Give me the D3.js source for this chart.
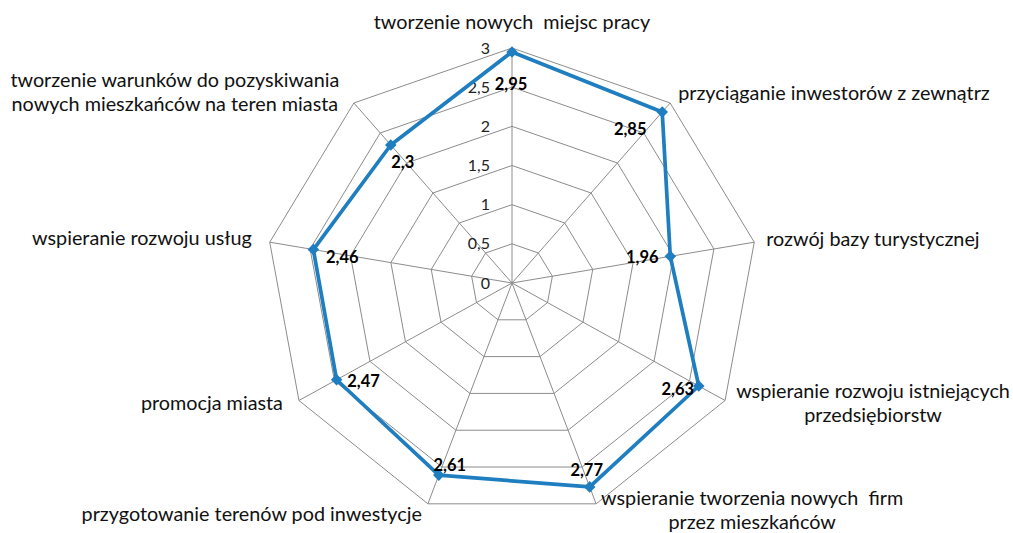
<!DOCTYPE html>
<html>
<head>
<meta charset="utf-8">
<script src="https://cdn.jsdelivr.net/npm/d3@7"></script>
<style>
  html, body { margin: 0; padding: 0; background: #fff; }
  svg { display: block; }
  text { font-family: Lato, "Open Sans", sans-serif; white-space: pre; }
</style>
</head>
<body>
<svg id="chart" width="1013" height="533"></svg>
<script>
// ---- data ----
const categories = [
  ["tworzenie nowych  miejsc pracy"],
  ["przyciąganie inwestorów z zewnątrz"],
  ["rozwój bazy turystycznej"],
  ["wspieranie rozwoju istniejących", "przedsiębiorstw"],
  ["wspieranie tworzenia nowych  firm", "przez mieszkańców"],
  ["przygotowanie terenów pod inwestycje"],
  ["promocja miasta"],
  ["wspieranie rozwoju usług"],
  ["tworzenie warunków do pozyskiwania", "nowych mieszkańców na teren miasta"]
];
const values = [2.95, 2.85, 1.96, 2.63, 2.77, 2.61, 2.47, 2.46, 2.3];
const tickValues = [0, 0.5, 1, 1.5, 2, 2.5, 3];
const tickLabels = ["0", "0,5", "1", "1,5", "2", "2,5", "3"];

// ---- layout / style (not data) ----
const cx = 512, cy = 283, rx = 246, ry = 235;
const blue = "#1f7ec0";
const gridColor = "#8c8c8c";
// category label placement relative to outer vertex: [anchor, dx, dy]
const labelLayout = [
  ["middle", 0, -19],
  ["start", 8, -3],
  ["start", 12, 4],
  ["middle", 148, -2.5],
  ["middle", 156, 0.7],
  ["end", -6, 17],
  ["end", -16, 9.5],
  ["end", -18, 3],
  ["middle", -179, -16]
];
// data label offsets relative to marker (center of text)
const valueLabelOffset = [
  [-1, 32], [-32, 17], [-28, 1], [-21, 3], [-3, -17],
  [11, -10], [27, 1], [29, 8], [12, 17]
];

const svg = d3.select("#chart");
const n = categories.length;
const r = d3.scaleLinear().domain([0, 3]).range([0, 1]);
const angle = d3.scaleLinear().domain([0, n]).range([0, 2 * Math.PI]);
const px = (i, v) => cx + rx * r(v) * Math.sin(angle(i));
const py = (i, v) => cy - ry * r(v) * Math.cos(angle(i));

const idx = d3.range(n);
const line = d3.line().curve(d3.curveLinearClosed);

// grid rings
svg.append("g").selectAll("path").data(tickValues.filter(t => t > 0)).join("path")
  .attr("d", t => line(idx.map(i => [px(i, t), py(i, t)])))
  .attr("fill", "none").attr("stroke", gridColor).attr("stroke-width", 1);

// spokes
svg.append("g").selectAll("line").data(idx).join("line")
  .attr("x1", cx).attr("y1", cy)
  .attr("x2", i => px(i, 3)).attr("y2", i => py(i, 3))
  .attr("stroke", gridColor).attr("stroke-width", 1);

// tick labels
svg.append("g").selectAll("text").data(tickValues).join("text")
  .attr("x", cx - 22).attr("y", t => py(0, t))
  .attr("dy", "0.35em")
  .attr("text-anchor", "end")
  .attr("font-size", 16).attr("fill", "#222")
  .text((t, k) => tickLabels[k]);

// series
svg.append("path")
  .attr("d", line(idx.map(i => [px(i, values[i]), py(i, values[i])])))
  .attr("fill", "none").attr("stroke", blue).attr("stroke-width", 3.7)
  .attr("stroke-linejoin", "round");

svg.append("g").selectAll("path").data(idx).join("path")
  .attr("d", d3.symbol().type(d3.symbolDiamond2).size(85))
  .attr("transform", i => `translate(${px(i, values[i])},${py(i, values[i])})`)
  .attr("fill", blue);

// value labels
svg.append("g").selectAll("text").data(idx).join("text")
  .attr("x", i => px(i, values[i]) + valueLabelOffset[i][0])
  .attr("y", i => py(i, values[i]) + valueLabelOffset[i][1])
  .attr("dy", "0.35em")
  .attr("text-anchor", "middle")
  .attr("font-size", 16.5).attr("font-weight", "bold").attr("fill", "#000")
  .text(i => String(values[i]).replace(".", ","));

// category labels
const cl = svg.append("g").selectAll("text").data(idx).join("text")
  .attr("x", i => px(i, 3) + labelLayout[i][1])
  .attr("y", i => py(i, 3) + labelLayout[i][2])
  .attr("text-anchor", i => labelLayout[i][0])
  .attr("font-size", 19.8).attr("fill", "#111");
cl.selectAll("tspan").data(i => categories[i].map(s => ({s, i}))).join("tspan")
  .attr("x", d => px(d.i, 3) + labelLayout[d.i][1])
  .attr("dy", (d, k) => k === 0 ? 0 : 24)
  .text(d => d.s);
</script>
</body>
</html>
